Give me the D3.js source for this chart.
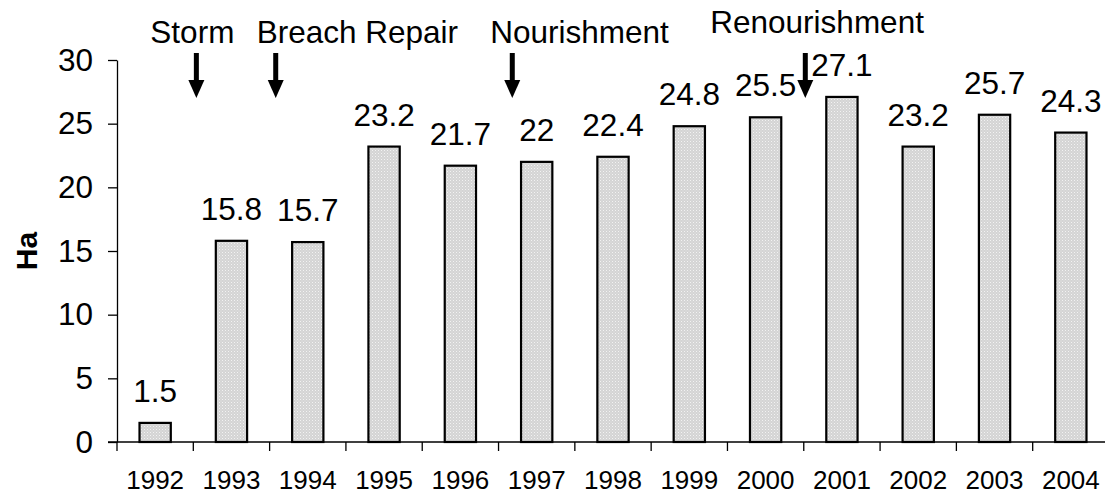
<!DOCTYPE html>
<html>
<head>
<meta charset="utf-8">
<script src="https://cdn.jsdelivr.net/npm/d3@7"></script>
<style>
  html, body { margin: 0; padding: 0; background: #fff; }
  svg { display: block; font-family: Arial, "Liberation Sans", sans-serif; }
  .axis text { fill: #000; }
</style>
</head>
<body>
<div id="chart"></div>
<script>
// Data
const years = [1992, 1993, 1994, 1995, 1996, 1997, 1998, 1999, 2000, 2001, 2002, 2003, 2004];
const areaHa = [1.5, 15.8, 15.7, 23.2, 21.7, 22, 22.4, 24.8, 25.5, 27.1, 23.2, 25.7, 24.3];
const yTicks = [0, 5, 10, 15, 20, 25, 30];
const eventLabels = ["Storm", "Breach Repair", "Nourishment", "Renourishment"];
const eventAt = [1992.54, 1993.58, 1996.68, 2000.52];   // position in year units

const width = 1105;
const height = 498;
const margin = {top: 60, right: -4, bottom: 56, left: 117};

// where each event label starts, relative to its arrow, and its baseline
const labelDx = [-46, -19, -22, -95];
const labelY = [43, 43, 43, 33];

const bigFont = "31.5px";

const svg = d3.select("#chart").append("svg")
    .attr("width", width)
    .attr("height", height);

const defs = svg.append("defs");
const pat = defs.append("pattern")
    .attr("id", "dots")
    .attr("width", 3)
    .attr("height", 3)
    .attr("patternUnits", "userSpaceOnUse");
pat.append("rect").attr("width", 3).attr("height", 3).attr("fill", "#d4d4d4");
pat.append("rect").attr("width", 1).attr("height", 1).attr("fill", "#f2f2f2");
pat.append("rect").attr("x", 1.5).attr("y", 1.5).attr("width", 1).attr("height", 1).attr("fill", "#e6e6e6");

const x = d3.scaleBand()
    .domain(years)
    .range([margin.left, width - margin.right])
    .padding(0);

const y = d3.scaleLinear()
    .domain([0, 30])
    .range([height - margin.bottom, margin.top]);

// fractional year -> pixel (centre of band)
const xAt = d3.scaleLinear()
    .domain([years[0], years[years.length - 1]])
    .range([x(years[0]) + x.bandwidth() / 2, x(years[years.length - 1]) + x.bandwidth() / 2]);

const barW = x.bandwidth() * 0.41;
const data = years.map((yr, i) => ({year: yr, value: areaHa[i]}));

// y axis
const yAxis = d3.axisLeft(y)
    .tickValues(yTicks)
    .tickSize(9)
    .tickPadding(15)
    .tickSizeOuter(0);

const gy = svg.append("g")
    .attr("class", "axis")
    .attr("transform", `translate(${margin.left},0)`)
    .call(yAxis);
gy.selectAll("text").style("font-size", bigFont);
gy.selectAll("line, path").attr("stroke", "#000").attr("stroke-width", 1.3);

// x axis: labels at band centres, ticks at band edges
const xAxis = d3.axisBottom(x).tickSize(0).tickPadding(0);
const gx = svg.append("g")
    .attr("class", "axis")
    .attr("transform", `translate(0,${y(0)})`)
    .call(xAxis);
gx.select(".domain").remove();
gx.selectAll("text")
    .attr("dy", null)
    .attr("y", 47)
    .style("font-size", "26px");

svg.append("line")
    .attr("x1", margin.left - 9)
    .attr("x2", width)
    .attr("y1", y(0))
    .attr("y2", y(0))
    .attr("stroke", "#000")
    .attr("stroke-width", 1.3);

svg.append("g").selectAll("line")
    .data(years)
    .join("line")
    .attr("x1", d => x(d))
    .attr("x2", d => x(d))
    .attr("y1", y(0))
    .attr("y2", y(0) + 9)
    .attr("stroke", "#000")
    .attr("stroke-width", 1.3);

// bars
svg.append("g").selectAll("rect")
    .data(data)
    .join("rect")
    .attr("x", d => x(d.year) + (x.bandwidth() - barW) / 2)
    .attr("width", barW)
    .attr("y", d => y(d.value))
    .attr("height", d => y(0) - y(d.value))
    .attr("fill", "url(#dots)")
    .attr("stroke", "#000")
    .attr("stroke-width", 2.2);

// value labels
svg.append("g").selectAll("text")
    .data(data)
    .join("text")
    .attr("x", d => x(d.year) + x.bandwidth() / 2)
    .attr("y", d => y(d.value) - 21)
    .attr("text-anchor", "middle")
    .style("font-size", bigFont)
    .text(d => String(d.value));

// y axis title
svg.append("text")
    .attr("transform", `translate(37,${(y(0) + y(30)) / 2}) rotate(-90)`)
    .attr("text-anchor", "middle")
    .style("font-size", "30px")
    .style("font-weight", "bold")
    .text("Ha");

// event annotations
const ev = svg.append("g").selectAll("g")
    .data(eventLabels.map((label, i) => ({label, at: eventAt[i], dx: labelDx[i], ly: labelY[i]})))
    .join("g")
    .attr("transform", d => `translate(${xAt(d.at)},0)`);

ev.append("text")
    .attr("x", d => d.dx)
    .attr("y", d => d.ly)
    .style("font-size", bigFont)
    .text(d => d.label);

ev.append("rect")
    .attr("x", -2.5)
    .attr("y", 53)
    .attr("width", 5)
    .attr("height", 30);

ev.append("path")
    .attr("d", "M-8,80 L8,80 L0,98 Z");
</script>
</body>
</html>
